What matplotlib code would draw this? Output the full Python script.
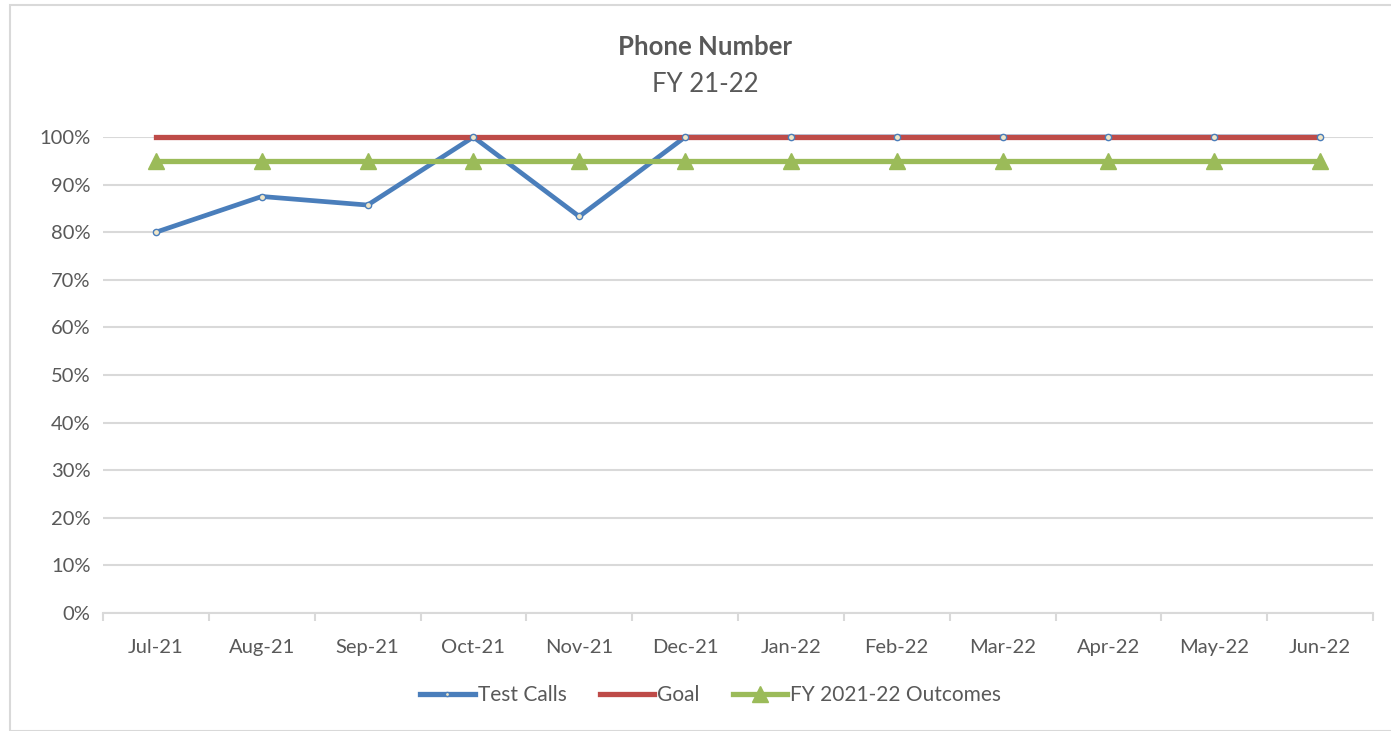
import matplotlib
matplotlib.use("Agg")
import matplotlib.pyplot as plt
from matplotlib.patches import Rectangle
from matplotlib.ticker import PercentFormatter

months = ["Jul-21", "Aug-21", "Sep-21", "Oct-21", "Nov-21", "Dec-21",
          "Jan-22", "Feb-22", "Mar-22", "Apr-22", "May-22", "Jun-22"]
test_calls = [0.80, 0.875, 0.857, 1.0, 0.833, 1.0, 1.0, 1.0, 1.0, 1.0, 1.0, 1.0]
goal = [1.0] * 12
outcomes = [0.95] * 12

plt.rcParams['font.family'] = ['Lato', 'DejaVu Sans']

fig = plt.figure(figsize=(13.91, 7.31), dpi=100)
# rahmen um das diagramm
fig.patches.append(Rectangle((10 / 1391, 0), 1.0, 1 - 5 / 731, transform=fig.transFigure,
                             fill=False, edgecolor='#d9d9d9', linewidth=1.5))

ax = fig.add_axes([103 / 1391, 1 - 613 / 731, 1270 / 1391, 476 / 731])
x = range(len(months))

ax.plot(x, test_calls, color='#4a7ebb', lw=3.4, zorder=3, clip_on=False)
ax.plot(x, goal, color='#be4b48', lw=3.8, zorder=4, clip_on=False)
ax.plot(x, test_calls, ls='none', marker='o', ms=4.5, mfc='#f0e6c8', mec='#4a7ebb',
        mew=1, zorder=5, clip_on=False)
ax.plot(x, outcomes, color='#9bbb59', lw=3.8, marker='^', ms=11, zorder=6, clip_on=False)

# legende mit eigenen griffen
h1, = ax.plot([], [], color='#4a7ebb', lw=3.8, marker='o', ms=3, mfc='#f0e6c8', mec='#4a7ebb')
h2, = ax.plot([], [], color='#be4b48', lw=3.8)
h3, = ax.plot([], [], color='#9bbb59', lw=3.8, marker='^', ms=11)
fig.legend([h1, h2, h3], ["Test Calls", "Goal", "FY 2021-22 Outcomes"],
           loc='center', bbox_to_anchor=(0.511, 1 - 695 / 731), ncol=3, frameon=False,
           handlelength=2.6, handletextpad=0.15, columnspacing=1.6,
           prop={'size': 15}, labelcolor='#595959')

ax.set_xlim(-0.5, 11.5)
ax.set_ylim(0, 1)
ax.set_yticks([i / 10 for i in range(11)])
ax.yaxis.set_major_formatter(PercentFormatter(1.0, decimals=0))
ax.set_xticks(list(x))
ax.set_xticklabels(months)
ax.set_xticks([i - 0.5 for i in range(13)], minor=True)
ax.tick_params(axis='x', which='major', length=0, pad=19, labelsize=14.5, labelcolor='#595959')
ax.tick_params(axis='x', which='minor', length=6, width=1.5, color='#d9d9d9')
ax.tick_params(axis='y', length=0, pad=9, labelsize=14.5, labelcolor='#595959')

ax.grid(axis='y', color='#d9d9d9', lw=1.5, zorder=0)
ax.set_axisbelow(True)
for s in ['top', 'right', 'left']:
    ax.spines[s].set_visible(False)
ax.spines['bottom'].set_color('#d9d9d9')
ax.spines['bottom'].set_linewidth(1.5)

fig.text(0.507, 1 - 47 / 731, "Phone Number", ha='center', va='center',
         fontsize=18.5, fontweight='bold', color='#595959')
fig.text(0.507, 1 - 85 / 731, "FY 21-22", ha='center', va='center',
         fontsize=18.5, color='#595959')

fig.savefig("out.png", dpi=100)
